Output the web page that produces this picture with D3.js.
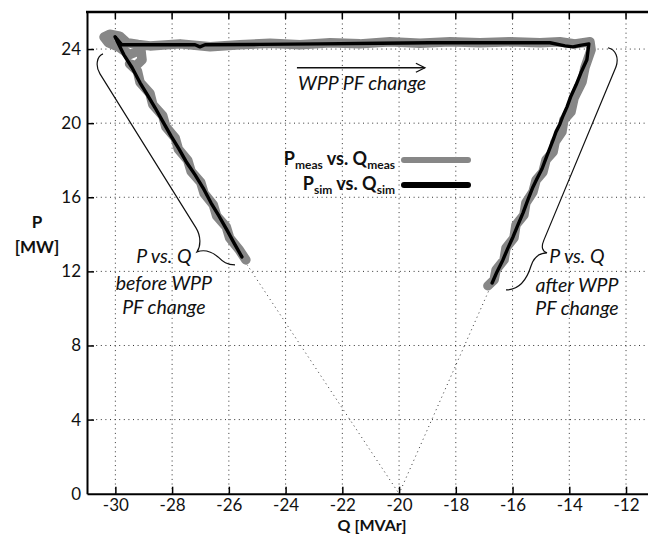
<!DOCTYPE html>
<html><head><meta charset="utf-8">
<script src="https://cdn.jsdelivr.net/npm/d3@7/dist/d3.min.js"></script>
<style>
body{margin:0;background:#fff}
svg{display:block}
text{font-family:Lato,"Open Sans",sans-serif;fill:#111}
</style>
</head><body>
<svg id="chart" width="648" height="534"></svg>
<script>
// ---------- data ----------
const xTicks = [-30,-28,-26,-24,-22,-20,-18,-16,-14,-12];
const yTicks = [0,4,8,12,16,20,24];

// measured trajectory (P vs Q)
const measQ = [-25.40,-25.65,-25.97,-26.09,-26.43,-26.55,-26.87,-26.99,-27.33,-27.45,-27.78,-27.89,-28.22,-28.33,-28.68,-28.78,-29.13,-29.22,-29.50,
  -29.27,-29.06,-29.10,-29.50,-29.84,-30.25,-30.40,-30.20,-29.85,-29.60,-29.20,
  -28.78,-27.72,-26.66,-25.61,-24.55,-23.49,-22.43,-21.38,-20.32,-19.26,-18.20,-17.15,-16.09,-15.03,-14.33,-13.80,-13.27,
  -13.23,-13.45,-13.55,-13.83,-13.94,-14.19,-14.26,-14.50,-14.57,-14.82,-14.93,-15.17,-15.28,-15.53,-15.60,-15.88,-15.95,-16.23,-16.30,-16.58,-16.65,-16.87];
const measP = [12.62,13.20,13.80,14.40,15.00,15.60,16.20,16.80,17.40,18.00,18.60,19.20,19.80,20.40,21.00,21.60,22.20,22.80,23.20,
  23.10,23.42,23.96,23.70,24.07,24.35,24.65,24.80,24.70,24.35,24.25,
  24.17,24.28,24.12,24.23,24.31,24.23,24.34,24.28,24.39,24.31,24.39,24.34,24.39,24.34,24.39,24.28,24.39,
  23.96,22.99,22.23,21.37,20.61,20.18,19.53,18.99,18.45,18.02,17.36,16.93,16.29,15.70,15.04,14.51,13.81,13.27,12.62,12.08,11.54,11.22];

// simulated trajectory (P vs Q)
const simQ = [-25.54,-25.82,-26.07,-26.35,-26.63,-26.91,-27.19,-27.48,-27.76,-28.04,-28.32,-28.60,-28.85,-29.13,-29.41,-29.70,-29.91,-30.01,
  -29.77,-28.43,-27.19,-27.02,-26.84,-24.90,-22.79,-20.67,-18.91,-17.15,-15.38,-14.68,-14.15,-13.87,-13.62,-13.31,
  -13.38,-13.59,-13.76,-13.94,-14.08,-14.22,-14.33,-14.47,-14.57,-14.68,-14.79,-14.96,-15.14,-15.28,-15.46,-15.63,-15.81,-15.98,-16.16,-16.34,-16.55,-16.72];
const simP = [12.78,13.54,14.24,14.99,15.70,16.51,17.21,17.86,18.61,19.31,20.07,20.83,21.47,22.18,22.99,23.69,24.34,24.66,
  24.23,24.23,24.23,24.12,24.23,24.25,24.28,24.31,24.34,24.34,24.34,24.34,24.17,24.12,24.20,24.28,
  23.42,22.72,22.07,21.47,20.88,20.40,19.96,19.53,19.10,18.67,18.24,17.54,17.00,16.56,15.86,15.16,14.51,13.87,13.27,12.62,11.97,11.37];

// dotted extensions meeting at (-20, 0)
const extLeftQ = [-25.54,-20], extLeftP = [12.78,0];
const extRightQ = [-16.72,-20], extRightP = [11.37,0];

// annotation anchors (data units)
const braceLeft = [["M",-30.436,23.74],["C",-30.648,23.63,-30.718,23.09,-30.542,22.66],["L",-27.158,14.35],
  ["C",-26.982,13.91,-26.982,13.37,-27.123,13.05],["C",-26.841,13.21,-26.594,13.05,-26.382,12.78],["C",-26.206,12.51,-26.065,12.35,-25.783,12.35]];
const braceRight = [["M",-12.636,24.07],["C",-12.353,23.96,-12.248,23.53,-12.353,23.04],["L",-14.892,13.70],
  ["C",-14.997,13.32,-14.962,13.10,-14.786,13.00],["C",-15.068,13.00,-15.244,12.78,-15.350,12.29],["C",-15.491,11.59,-15.737,11.00,-16.231,11.00]];
const arrowQ = [-23.60,-19.09], arrowP = 22.99;
const noteTop = {text:"WPP PF change", q:-23.56, p:21.80};
const noteLeft = {lines:["P vs. Q","before WPP","PF change"], q:-28.29, p:[12.45,10.99,9.72]};
const noteRight = {lines:["P vs. Q","after WPP","PF change"], q:-13.73, p:[12.45,10.88,9.65]};

// ---------- drawing ----------
const svg = d3.select("#chart");
const x = d3.scaleLinear().domain([-31,-11]).range([87,654.4]);
const y = d3.scaleLinear().domain([0,26]).range([493.7,12]);
const X0 = x(-31), X1 = x(-11), Y0 = y(0), Y1 = y(26);

svg.append("defs").append("clipPath").attr("id","plot")
  .append("rect").attr("x",X0).attr("y",Y1).attr("width",X1-X0).attr("height",Y0-Y1);

const grid = svg.append("g").attr("stroke","#333").attr("stroke-width",1).attr("stroke-dasharray","1,3.6");
grid.selectAll(".v").data(xTicks).join("line")
  .attr("x1",d=>x(d)).attr("x2",d=>x(d)).attr("y1",Y0).attr("y2",Y1);
grid.selectAll(".h").data(yTicks.filter(d=>d>0)).join("line")
  .attr("y1",d=>y(d)).attr("y2",d=>y(d)).attr("x1",X0).attr("x2",X1);

const plot = svg.append("g").attr("clip-path","url(#plot)");
const line = d3.line().x(d=>x(d[0])).y(d=>y(d[1]));
const zip = (a,b)=>a.map((v,i)=>[v,b[i]]);

plot.append("path").datum(zip(extLeftQ,extLeftP)).attr("d",line)
  .attr("fill","none").attr("stroke","#333").attr("stroke-width",1).attr("stroke-dasharray","1,3.6");
plot.append("path").datum(zip(extRightQ,extRightP)).attr("d",line)
  .attr("fill","none").attr("stroke","#333").attr("stroke-width",1).attr("stroke-dasharray","1,3.6");

plot.append("path").datum(zip(measQ,measP)).attr("d",line)
  .attr("fill","none").attr("stroke","#878787").attr("stroke-width",9.5)
  .attr("stroke-linejoin","round").attr("stroke-linecap","round");
plot.append("path").datum(zip(simQ,simP)).attr("d",line)
  .attr("fill","none").attr("stroke","#000").attr("stroke-width",3.4)
  .attr("stroke-linejoin","round").attr("stroke-linecap","round");

// axes
const fontSize = 17;
const gx = svg.append("g").attr("transform",`translate(0,${Y0})`)
  .call(d3.axisBottom(x).tickValues(xTicks).tickSize(-7).tickSizeOuter(0).tickPadding(5));
const gy = svg.append("g").attr("transform",`translate(${X0},0)`)
  .call(d3.axisLeft(y).tickValues(yTicks).tickSize(-7).tickSizeOuter(0).tickPadding(6));
[gx,gy].forEach(g=>{
  g.select(".domain").attr("stroke","#000").attr("stroke-width",2);
  g.selectAll(".tick line").attr("stroke","#000").attr("stroke-width",1.5);
  g.selectAll(".tick text").attr("font-family","Lato, 'Open Sans', sans-serif").attr("font-size",fontSize).attr("fill","#111");
});
gy.selectAll(".tick").filter(d=>d===0).select("line").remove();
gx.selectAll(".tick text").text(d=>d<0?"-"+Math.abs(d):d);

// top frame
svg.append("line").attr("x1",X0-1).attr("x2",X1).attr("y1",Y1).attr("y2",Y1).attr("stroke","#000").attr("stroke-width",2.4);
svg.append("g").selectAll("line").data(xTicks).join("line")
  .attr("x1",d=>x(d)).attr("x2",d=>x(d)).attr("y1",Y1).attr("y2",Y1+7).attr("stroke","#000").attr("stroke-width",1.5);
svg.append("line").attr("x1",X1).attr("x2",X1).attr("y1",Y1).attr("y2",Y0).attr("stroke","#000").attr("stroke-width",2);

// axis titles
svg.append("text").attr("x",37).attr("y",228).attr("text-anchor","middle").attr("font-weight","bold").attr("font-size",17).text("P");
svg.append("text").attr("x",37).attr("y",253).attr("text-anchor","middle").attr("font-weight","bold").attr("font-size",17).text("[MW]");
svg.append("text").attr("x",372).attr("y",531).attr("text-anchor","middle").attr("font-weight","bold").attr("font-size",16).text("Q [MVAr]");

// annotations
const bracePath = cmds => cmds.map(c=>{
  const pts=[]; for(let i=1;i<c.length;i+=2) pts.push(x(c[i])+","+y(c[i+1]));
  return c[0]+pts.join(" ");
}).join(" ");
[braceLeft,braceRight].forEach(b=>svg.append("path").attr("d",bracePath(b))
  .attr("fill","none").attr("stroke","#111").attr("stroke-width",1.2));

svg.append("line").attr("x1",x(arrowQ[0])).attr("x2",x(arrowQ[1])).attr("y1",y(arrowP)).attr("y2",y(arrowP))
  .attr("stroke","#111").attr("stroke-width",1.3);
svg.append("path").attr("d",`M${x(arrowQ[1])-9},${y(arrowP)-4.5} L${x(arrowQ[1])},${y(arrowP)} L${x(arrowQ[1])-9},${y(arrowP)+4.5}`)
  .attr("fill","none").attr("stroke","#111").attr("stroke-width",1.3);
svg.append("text").attr("x",x(noteTop.q)).attr("y",y(noteTop.p)).attr("font-style","italic").attr("font-size",19.5).text(noteTop.text);

[noteLeft,noteRight].forEach(n=>{
  n.lines.forEach((t,i)=>svg.append("text").attr("x",x(n.q)).attr("y",y(n.p[i]))
    .attr("text-anchor","middle").attr("font-style","italic").attr("font-size",19.5).text(t));
});

// legend
const legend = [
  {main:"P", sub:"meas", mid:" vs. Q", sub2:"meas", color:"#878787", yy:165, ly:160},
  {main:"P", sub:"sim", mid:" vs. Q", sub2:"sim", color:"#000", yy:190, ly:185}
];
legend.forEach(l=>{
  const t = svg.append("text").attr("x",395).attr("y",l.yy).attr("text-anchor","end")
    .attr("font-weight","bold").attr("font-size",18);
  t.append("tspan").text(l.main);
  t.append("tspan").attr("font-size",12).attr("dy",4).text(l.sub);
  t.append("tspan").attr("dy",-4).text(l.mid);
  t.append("tspan").attr("font-size",12).attr("dy",4).text(l.sub2);
  svg.append("line").attr("x1",404).attr("x2",468).attr("y1",l.ly).attr("y2",l.ly)
    .attr("stroke",l.color).attr("stroke-width",6).attr("stroke-linecap","round");
});
</script>
</body></html>
